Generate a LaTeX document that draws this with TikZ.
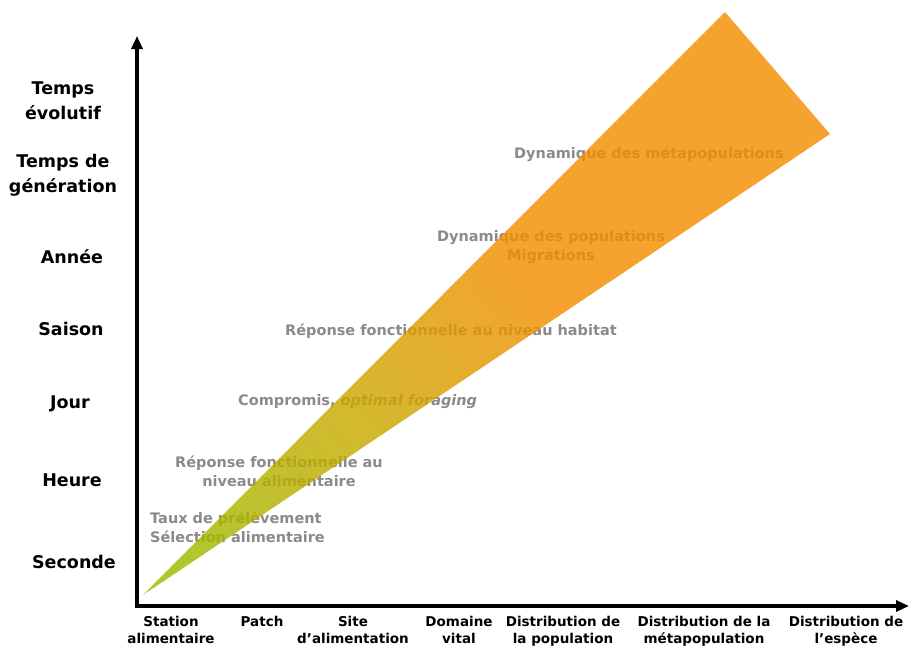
\documentclass[tikz,border=0pt]{standalone}
\usepackage{fontspec}
\setmainfont{DejaVu Sans}
\usetikzlibrary{arrows.meta}
\definecolor{wgreen}{HTML}{95BE00}
\definecolor{wmid}{HTML}{C8AA00}
\definecolor{worange}{HTML}{F38E00}
\definecolor{ltxt}{HTML}{8A8A8A}
\tikzset{
  ylab/.style={font=\bfseries\fontsize{17.5}{25}\selectfont, align=center, text=black, inner sep=0pt},
  xlab/.style={font=\bfseries\fontsize{13.5}{17.5}\selectfont, align=center, text=black, inner sep=0pt, anchor=north},
  inlab/.style={font=\bfseries\fontsize{14.5}{19}\selectfont, text=ltxt, inner sep=0pt},
  axis/.style={line width=3.2pt, {Triangle[length=13pt,width=11pt]}-{Triangle[length=13pt,width=11pt]}},
  wedgegroup/.style={transparency group, opacity=0.82}
}
\begin{document}
\begin{tikzpicture}[x=1pt,y=-1pt]
\useasboundingbox (0,0) rectangle (910,649);
% labels inside (drawn below the wedge)
\node[inlab, anchor=west, align=left] (taux) at (150,527) {Taux de prélèvement\\Sélection alimentaire};
\node[inlab, align=center] (repal) at (279,471) {Réponse fonctionnelle au\\niveau alimentaire};
\node[inlab, anchor=west] (comp) at (238,402) {Compromis, \textit{optimal foraging}};
\node[inlab, anchor=west] (rephab) at (285,331) {Réponse fonctionnelle au niveau habitat};
\node[inlab, align=center] (dynpop) at (551,247) {Dynamique des populations\\Migrations};
\node[inlab, anchor=west] (dynmeta) at (514,154) {Dynamique des métapopulations};
% wedge
\coordinate (w0) at (143,595);
\coordinate (w1) at (725,12);
\coordinate (w2) at (830,134);
\begin{scope}[wedgegroup]
\clip (w0) -- (w1) -- (w2) -- cycle;
\begin{scope}[shift={(143,595)}, rotate=39.5]
\foreach \i in {0,...,105}{
  \pgfmathsetmacro{\xa}{\i*8-24}
  \pgfmathsetmacro{\xb}{\xa+8.8}
  \pgfmathsetmacro{\pa}{min(100,max(0,100-(\xa+4)/2.7))}
  \pgfmathsetmacro{\pb}{min(100,max(0,100-(\xa+4-270)/2.3))}
  \ifdim\xa pt<270pt \colorlet{bandc}{wgreen!\pa!wmid}\else\colorlet{bandc}{wmid!\pb!worange}\fi
  \fill[bandc] (\xa,-600) rectangle (\xb,600);
}
\end{scope}
\end{scope}
% axes
\coordinate (ytop) at (137,36);
\coordinate (orig) at (137,606);
\coordinate (xend) at (909,606);
\draw[axis] (ytop) -- (orig) -- (xend);
% y labels
\node[ylab] (evo) at (63,101) {Temps\\évolutif};
\node[ylab] (gen) at (63,175) {Temps de\\génération};
\node[ylab] (annee) at (72,257) {Année};
\node[ylab] (saison) at (71,329) {Saison};
\node[ylab] (jour) at (70,404) {Jour};
\node[ylab] (heure) at (72,480) {Heure};
\node[ylab] (sec) at (74,562) {Seconde};
% x labels
\node[xlab] (station) at (171,616) {Station\\alimentaire};
\node[xlab] (patch) at (262,616) {Patch};
\node[xlab] (site) at (353,616) {Site\\d’alimentation};
\node[xlab] (dom) at (459,616) {Domaine\\vital};
\node[xlab] (dpop) at (563,616) {Distribution de\\la population};
\node[xlab] (dmeta) at (704,616) {Distribution de la\\métapopulation};
\node[xlab] (desp) at (846,616) {Distribution de\\l’espèce};
\end{tikzpicture}
\end{document}
